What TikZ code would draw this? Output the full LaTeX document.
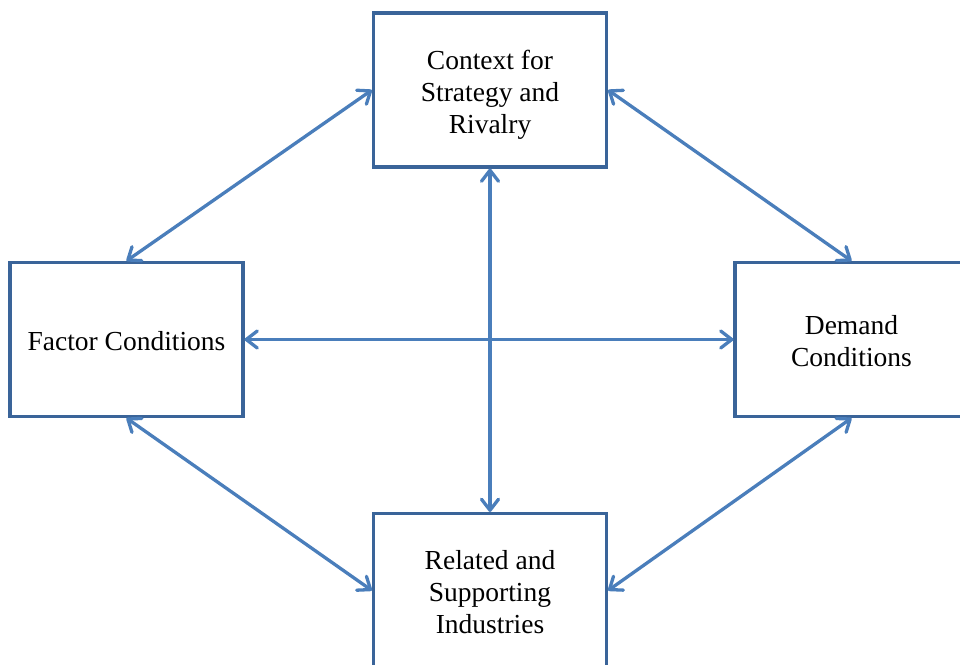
\documentclass[tikz,border=0pt]{standalone}
\usepackage{fontspec}
\setmainfont{Liberation Serif}
\usetikzlibrary{arrows.meta}
\definecolor{boxline}{HTML}{3A6499}
\definecolor{linkline}{HTML}{4A7EBB}
\begin{document}
\begin{tikzpicture}[x=1pt,y=-1pt,
  factor/.style={draw=boxline, line width=3.2pt, fill=white,
    minimum width=233pt, minimum height=154pt, inner sep=0pt},
  label/.style={align=center, inner sep=0pt, font=\fontsize{27.5}{32}\selectfont},
  barb/.tip={Straight Barb[length=11pt,width=17pt,round]},
  link/.style={draw=linkline, line width=3.3pt, barb-barb}]
  \useasboundingbox (0,0) rectangle (960,664);
  \clip (0,0) rectangle (960,664);
  % the four determinants
  \node[factor] (ctx) at (490,90)    {};
  \node[factor] (fac) at (126.5,339.5) {};
  \node[factor] (dem) at (851.5,339.5) {};
  \node[factor] (rel) at (490,590.5) {};
  \node[label] (ctxt) at (490,95)    {Context for\\Strategy and\\Rivalry};
  \node[label] (fact) at (126.5,341.5) {Factor Conditions};
  \node[label] (demt) at (851.5,341.5) {Demand\\Conditions};
  \node[label] (relt) at (490,592) {Related and\\Supporting\\Industries};
  % mutual links
  \draw[link] (ctx.west) -- (fac.north);
  \draw[link] (ctx.east) -- (dem.north);
  \draw[link] (fac.south) -- (rel.west);
  \draw[link] (dem.south) -- (rel.east);
  \draw[link] (ctx.south) -- (rel.north);
  \draw[link] (fac.east) -- (dem.west);
\end{tikzpicture}
\end{document}
